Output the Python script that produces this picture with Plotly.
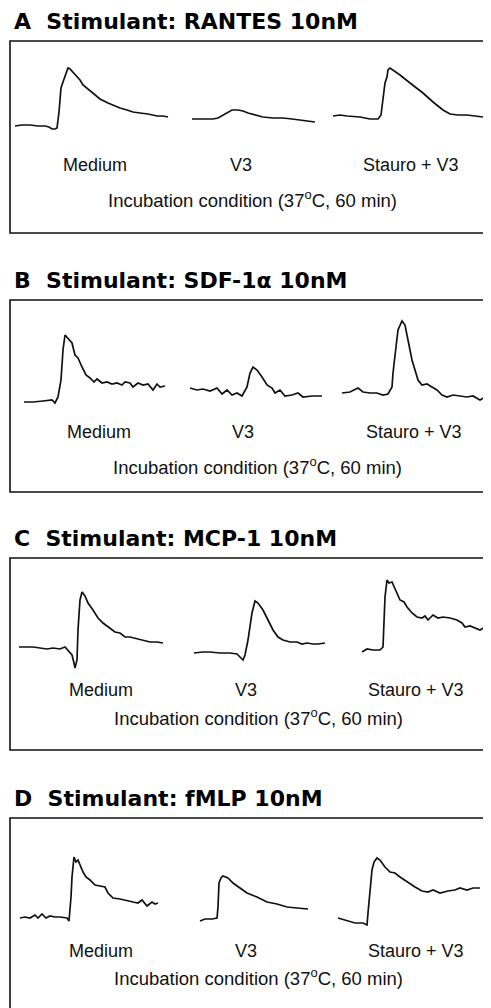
import plotly.graph_objects as go

# ---------------- data (time in s, signal in arbitrary units) ----------------
conditions = ["Medium", "V3", "Stauro + V3"]
panel_titles = [
    "A\u00a0\u00a0Stimulant: RANTES 10nM",
    "B\u00a0\u00a0Stimulant: SDF-1\u03b1 10nM",
    "C\u00a0\u00a0Stimulant: MCP-1 10nM",
    "D\u00a0\u00a0Stimulant: fMLP 10nM",
]
x_caption = "Incubation condition (37<sup>o</sup>C, 60 min)"

# Panel A: RANTES
a_med_t = [0, 7, 15, 23, 30, 34, 37, 40, 42, 43, 44, 45, 46, 48, 50, 52, 53, 55, 58, 61, 65, 68, 73, 79, 85, 93, 100, 105, 112, 118, 125, 133, 142, 148, 153]
a_med_v = [0, 1, 1, 0, 0, -1, -3, -3, -2, 4, 14, 26, 38, 44, 50, 56, 58, 57, 54, 51, 46, 41, 37, 32, 27, 23, 20, 18, 16, 14, 13, 12, 10, 10, 9]
a_v3_t = [0, 8, 21, 26, 31, 36, 40, 46, 51, 56, 63, 71, 81, 91, 100, 108, 116, 123]
a_v3_v = [7, 7, 7, 8, 11, 14, 16, 16, 15, 13, 11, 9, 8, 8, 7, 6, 5, 4]
a_st_t = [0, 7, 14, 27, 37, 45, 48, 50, 52, 54, 55, 57, 60, 67, 77, 90, 100, 110, 117, 125, 134, 142, 150]
a_st_v = [10, 11, 10, 9, 7, 7, 11, 26, 43, 49, 56, 58, 56, 51, 43, 33, 24, 16, 12, 11, 11, 10, 9]

# Panel B: SDF-1a
b_med_t = [0, 9, 19, 28, 31, 34, 37, 39, 41, 44, 48, 51, 54, 58, 62, 66, 70, 73, 78, 83, 88, 93, 98, 101, 106, 109, 114, 119, 124, 129, 133, 136, 141]
b_med_v = [0, 0, 1, 2, -1, 5, 22, 52, 67, 64, 59, 47, 44, 35, 27, 24, 20, 23, 19, 20, 18, 19, 17, 20, 19, 15, 19, 17, 18, 12, 18, 15, 16]
b_v3_t = [0, 7, 13, 20, 27, 32, 37, 42, 47, 52, 57, 60, 63, 67, 72, 77, 82, 85, 90, 95, 102, 108, 113, 122, 132]
b_v3_v = [14, 12, 13, 11, 14, 8, 12, 7, 9, 6, 15, 29, 35, 32, 25, 17, 14, 9, 12, 6, 7, 9, 5, 6, 6]
b_st_t = [0, 8, 16, 21, 28, 35, 41, 46, 50, 51, 54, 56, 60, 63, 66, 70, 73, 76, 80, 85, 90, 95, 100, 105, 111, 118, 125, 131, 138, 143, 148]
b_st_v = [9, 10, 14, 10, 9, 9, 7, 8, 15, 29, 55, 72, 81, 77, 62, 42, 32, 22, 17, 18, 15, 12, 7, 5, 7, 6, 5, 6, 2, 5, 7]

# Panel C: MCP-1
c_med_t = [0, 8, 14, 21, 28, 34, 41, 46, 49, 53, 55, 56, 58, 59, 61, 63, 66, 69, 74, 79, 84, 89, 96, 101, 106, 111, 118, 124, 131, 138, 144]
c_med_v = [0, 0, 0, -1, -2, -1, -2, 0, -3, -8, -16, -21, -13, 17, 47, 55, 51, 44, 37, 29, 24, 20, 15, 14, 10, 10, 8, 7, 5, 5, 4]
c_v3_t = [0, 9, 16, 26, 36, 43, 46, 49, 51, 54, 58, 61, 64, 69, 74, 79, 84, 89, 96, 103, 108, 113, 119, 124, 131]
c_v3_v = [-6, -5, -5, -6, -6, -7, -10, -13, -8, 7, 34, 46, 44, 37, 27, 17, 10, 7, 5, 5, 3, 4, 3, 3, 4]
c_st_t = [0, 5, 11, 18, 21, 22, 23, 25, 27, 30, 32, 35, 38, 42, 45, 50, 55, 60, 63, 66, 71, 76, 81, 88, 95, 100, 103, 108, 113, 118, 123, 128]
c_st_v = [-5, -2, -3, -3, 0, 24, 50, 67, 64, 65, 60, 54, 47, 45, 40, 34, 30, 29, 31, 27, 32, 29, 30, 29, 27, 24, 20, 21, 19, 17, 20, 15]

# Panel D: fMLP
d_med_t = [0, 5, 10, 15, 18, 22, 26, 30, 35, 40, 47, 49, 51, 52, 54, 56, 58, 61, 63, 66, 70, 75, 80, 85, 88, 93, 100, 107, 113, 118, 122, 127, 132, 135, 138]
d_med_v = [0, 1, 0, 3, 0, 4, 0, 2, 1, 1, 0, -3, 21, 41, 61, 56, 58, 51, 46, 41, 38, 33, 32, 31, 25, 20, 19, 17, 16, 15, 18, 12, 16, 14, 15]
d_v3_t = [0, 5, 12, 17, 18, 19, 21, 23, 28, 33, 40, 47, 57, 67, 77, 87, 97, 108]
d_v3_v = [-3, -1, -1, 0, 11, 35, 40, 42, 40, 35, 30, 25, 21, 16, 14, 11, 10, 9]
d_st_t = [0, 9, 17, 25, 29, 30, 32, 34, 36, 39, 42, 47, 52, 57, 62, 69, 77, 84, 90, 95, 102, 110, 117, 122, 129, 135, 142]
d_st_v = [0, -3, -5, -5, -7, 5, 28, 48, 56, 60, 58, 51, 46, 45, 41, 36, 31, 27, 26, 28, 25, 27, 28, 30, 28, 30, 30]

# ---------------- layout constants (screen pixels) ----------------
SCREEN_W, SCREEN_H = 491, 1008
OFF = 8                      # default page margin of the html body
W, H = SCREEN_W - OFF, SCREEN_H - OFF
BOX_LEFT = 10
BOX_H = 192
box_tops = [41, 300, 558, 818]
baseline_px = [126, 402, 647, 918]          # pixel row of signal = 0 in each panel
trace_starts = [[15, 192, 333], [24, 190, 342], [19, 194, 362], [20, 200, 338]]
label_x = [[95, 241, 411], [99, 243, 414], [101, 246, 416], [101, 246, 416]]
label_dy = [124, 132, 132, 133]
caption_x = [252, 257, 258, 258]
caption_dy = [158, 166, 159, 159]

series = [
    [(a_med_t, a_med_v), (a_v3_t, a_v3_v), (a_st_t, a_st_v)],
    [(b_med_t, b_med_v), (b_v3_t, b_v3_v), (b_st_t, b_st_v)],
    [(c_med_t, c_med_v), (c_v3_t, c_v3_v), (c_st_t, c_st_v)],
    [(d_med_t, d_med_v), (d_v3_t, d_v3_v), (d_st_t, d_st_v)],
]

FONT = "Liberation Sans, Arial, Helvetica, sans-serif"
TITLE_FONT = "DejaVu Sans, Liberation Sans, Arial, sans-serif"


def fx(x):
    return (x - OFF) / W


def fy(y):
    return 1 - (y - OFF) / H


fig = go.Figure()
layout = {}
annotations = []
shapes = []
k = 0
for p in range(4):
    top = box_tops[p]
    bottom = min(top + BOX_H, SCREEN_H)
    ref = baseline_px[p]
    yname = "yaxis" if p == 0 else f"yaxis{p + 1}"
    yref = "y" if p == 0 else f"y{p + 1}"
    layout[yname] = dict(domain=[fy(bottom), fy(top)], range=[ref - bottom, ref - top],
                         visible=False, fixedrange=True)
    for c in range(3):
        k += 1
        t, v = series[p][c]
        start = trace_starts[p][c]
        tmax = max(t)
        right = min(start + tmax + 2, SCREEN_W)
        xname = "xaxis" if k == 1 else f"xaxis{k}"
        xref = "x" if k == 1 else f"x{k}"
        layout[xname] = dict(domain=[fx(start - 2), fx(right)],
                             range=[-2, right - start],
                             visible=False, fixedrange=True, anchor=yref)
        fig.add_trace(go.Scatter(x=t, y=v, mode="lines", xaxis=xref, yaxis=yref,
                                 line=dict(color="#111111", width=1.7),
                                 showlegend=False, hoverinfo="skip", name=conditions[c]))
        annotations.append(dict(text=conditions[c], x=fx(label_x[p][c]), y=fy(top + label_dy[p]),
                                xref="paper", yref="paper", xanchor="center", yanchor="middle",
                                showarrow=False, font=dict(family=FONT, size=18, color="#111111")))
    annotations.append(dict(text=x_caption, x=fx(caption_x[p]), y=fy(top + caption_dy[p]),
                            xref="paper", yref="paper", xanchor="center", yanchor="middle",
                            showarrow=False, font=dict(family=FONT, size=18.5, color="#111111")))
    annotations.append(dict(text=panel_titles[p], x=fx(12), y=fy(top - 20),
                            xref="paper", yref="paper", xanchor="left", yanchor="middle",
                            showarrow=False,
                            font=dict(family=TITLE_FONT, size=22, color="#000000", weight="bold")))
    shapes.append(dict(type="rect", xref="paper", yref="paper",
                       x0=fx(BOX_LEFT), x1=1.02, y0=fy(top + BOX_H), y1=fy(top),
                       line=dict(color="#111111", width=1.6), fillcolor="rgba(0,0,0,0)"))

fig.update_layout(width=W, height=H, margin=dict(l=0, r=0, t=0, b=0),
                  paper_bgcolor="white", plot_bgcolor="rgba(0,0,0,0)",
                  annotations=annotations, shapes=shapes, **layout)

fig.write_html("out.html")
